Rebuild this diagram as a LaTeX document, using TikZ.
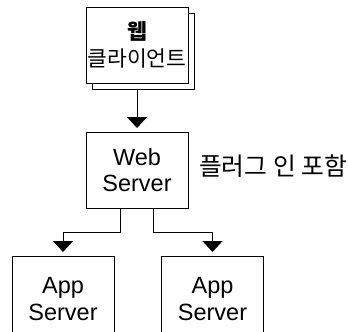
\documentclass[tikz,border=0pt]{standalone}
\usepackage{fontspec}
\setmainfont{Liberation Sans}
\newfontfamily\kr{Noto Sans CJK KR}
\usetikzlibrary{arrows.meta}
\begin{document}
\begin{tikzpicture}[x=1pt,y=-1pt,line width=1pt,
  box/.style={draw,fill=white,minimum width=102pt,minimum height=76pt,inner sep=0pt,align=center,
    font=\fontsize{23.5}{26.5}\selectfont},
  arr/.style={-{Triangle[width=20pt,length=11pt]},shorten >=3.5pt}]
\useasboundingbox (0,0) rectangle (349,332);
\node[box] (shadow) at (143,51) {};
\node[box,font=\kr\fontsize{21.5}{27}\selectfont] (client) at (137,45) {\bfseries 웹\\클라이언트};
\node[box] (web) at (137,170) {Web\\Server};
\node[box,minimum height=86pt] (app1) at (63,299) {App\\Server};
\node[box,minimum height=86pt] (app2) at (212.5,299) {App\\Server};
\node[anchor=west,inner sep=0pt,font=\kr\fontsize{24.8}{27}\selectfont] (plug) at (198.5,166) {플러그 인 포함};
\coordinate (s) at (shadow.south -| client.south);
\draw[arr] (s) -- (web.north);
\draw[arr] ([xshift=-16.5pt]web.south) |- (63,232) -- (app1.north);
\draw[arr] ([xshift=16.5pt]web.south) |- (212.5,232) -- (app2.north);
\end{tikzpicture}
\end{document}
